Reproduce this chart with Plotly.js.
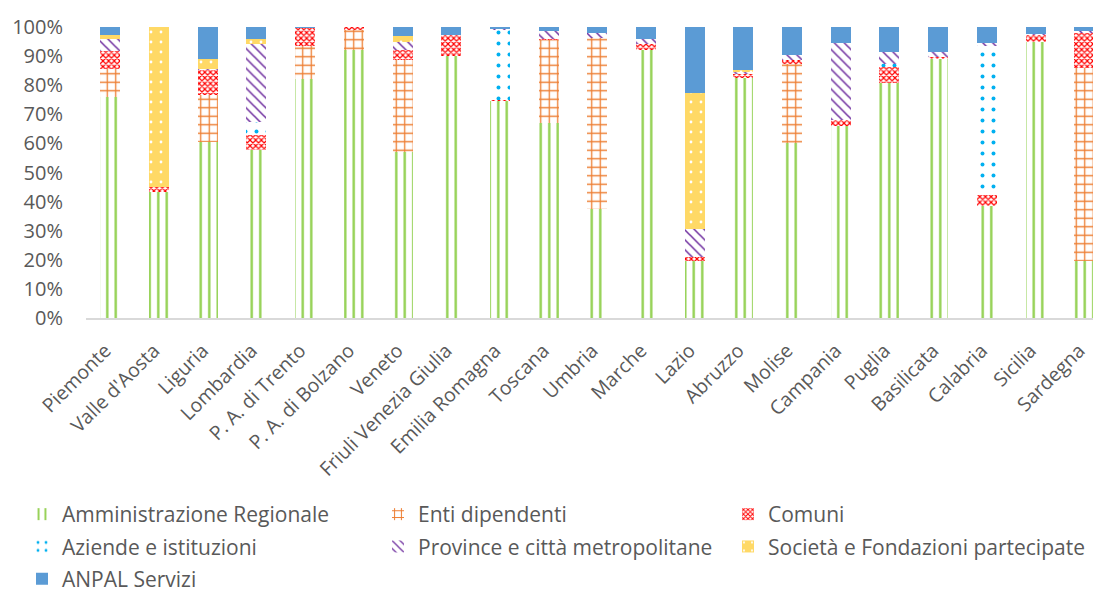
<!DOCTYPE html>
<html>
<head>
<meta charset="utf-8">
<script src="https://cdn.plot.ly/plotly-3.0.1.min.js"></script>
<style>html,body{margin:0;padding:0;background:#fff;overflow:hidden}#chart{width:1093px;height:592px}</style>
</head>
<body>
<div id="chart"></div>
<script>
const regions = ["Piemonte","Valle d'Aosta","Liguria","Lombardia","P. A. di Trento","P. A. di Bolzano","Veneto","Friuli Venezia Giulia","Emilia Romagna","Toscana","Umbria","Marche","Lazio","Abruzzo","Molise","Campania","Puglia","Basilicata","Calabria","Sicilia","Sardegna"];

const amministrazioneRegionale = [76.0, 43.4, 60.5, 57.7, 82.0, 92.2, 56.9, 90.0, 74.5, 67.0, 37.3, 92.2, 19.7, 82.6, 60.0, 66.1, 80.9, 89.0, 38.6, 94.9, 19.6];
const entiDipendenti          = [9.5, 0, 16.1, 0, 11.5, 6.9, 31.9, 0, 0, 28.4, 59.0, 0, 0, 0, 27.2, 0, 0, 0, 0, 0, 66.3];
const comuni                  = [6.3, 1.5, 8.5, 5.3, 6.1, 0.9, 3.4, 7.4, 0.4, 0.6, 0, 2.1, 1.1, 1.1, 1.4, 2.1, 5.4, 0.7, 3.6, 2.2, 12.2];
const aziendeIstituzioni      = [0, 0, 0, 4.4, 0, 0, 0, 0, 23.9, 0, 0, 0, 0, 0, 0, 0, 1.1, 0, 51.4, 0, 0];
const provinceMetropolitane   = [4.2, 0, 0.5, 26.7, 0, 0, 2.7, 0, 0.5, 2.5, 1.6, 1.7, 9.7, 0.9, 1.8, 26.4, 3.9, 1.6, 0.9, 0.6, 0.4];
const societaFondazioni       = [1.2, 55.1, 3.4, 1.9, 0, 0, 2.0, 0, 0, 0, 0, 0, 46.9, 0.5, 0, 0, 0, 0, 0, 0, 0];
const anpalServizi            = [2.8, 0, 11.0, 4.0, 0.4, 0, 3.1, 2.6, 0.7, 1.5, 2.1, 4.0, 22.6, 14.9, 9.6, 5.4, 8.7, 8.7, 5.5, 2.3, 1.5];

const seriesNames = ["Amministrazione Regionale","Enti dipendenti","Comuni","Aziende e istituzioni","Province e città metropolitane","Società e Fondazioni partecipate","ANPAL Servizi"];
const seriesValues = [amministrazioneRegionale, entiDipendenti, comuni, aziendeIstituzioni, provinceMetropolitane, societaFondazioni, anpalServizi];

const styles = [
  {legend:'legend',  pattern:{shape:'|', fgcolor:'#92D050', bgcolor:'#ffffff', size:8.5, solidity:0.28}},
  {legend:'legend2', pattern:{shape:'+', fgcolor:'#ED7D31', bgcolor:'#ffffff', size:8.5, solidity:0.28}},
  {legend:'legend3', pattern:{shape:'x', fgcolor:'#FF0000', bgcolor:'#ffffff', size:4, solidity:0.5}},
  {legend:'legend',  pattern:{shape:'.', fgcolor:'#00B0F0', bgcolor:'#ffffff', size:11, solidity:0.1}},
  {legend:'legend2', pattern:{shape:'\\', fgcolor:'#7030A0', bgcolor:'#ffffff', size:7, solidity:0.22}},
  {legend:'legend3', pattern:{shape:'.', fgcolor:'#ffffff', bgcolor:'#FFD966', size:10, solidity:0.06}},
  {legend:'legend',  color:'#5B9BD5'}
];

const traces = seriesNames.map((name, i) => {
  const st = styles[i];
  const marker = {line:{width:0}};
  if (st.pattern) {
    marker.color = st.pattern.fgcolor;
    marker.pattern = Object.assign({fillmode:'replace'}, st.pattern);
  } else {
    marker.color = st.color;
  }
  return {
    type:'bar', name:name, x:regions, y:seriesValues[i],
    marker:marker, legend:st.legend, legendgroup:'g'+i, hoverinfo:'name+y'
  };
});

const fam = '"Open Sans", "Noto Sans", sans-serif';
const font = {family:fam, size:19, color:'#595959'};
const legendBase = {orientation:'v', xref:'container', yref:'container', yanchor:'top', xanchor:'left',
  traceorder:'grouped', tracegroupgap:2, font:{family:fam, size:21, color:'#595959'}, bgcolor:'rgba(0,0,0,0)', itemwidth:30};

const layout = {
  width:1093, height:592,
  margin:{l:86, r:0, t:27, b:274, autoexpand:false},
  paper_bgcolor:'#ffffff', plot_bgcolor:'#ffffff',
  font:font,
  barmode:'stack', bargap:0.59,
  xaxis:{type:'category', range:[-0.5, 20.18], tickangle:-45, showgrid:false, zeroline:false, automargin:false,
    showline:true, linecolor:'#D9D9D9', linewidth:1.5, ticks:'', ticklabelstandoff:12, ticklabelshift:-5,
    tickfont:{size:19.5, color:'#595959'}},
  yaxis:{range:[0,100], dtick:10, ticksuffix:'%', showgrid:false, zeroline:false, showline:false, automargin:false,
    ticks:'', ticklabelstandoff:22, tickfont:{size:20, color:'#595959'}},
  showlegend:true,
  legend: Object.assign({}, legendBase, {x:22/1093, y:1-494/592}),
  legend2: Object.assign({}, legendBase, {x:378/1093, y:1-494/592}),
  legend3: Object.assign({}, legendBase, {x:728/1093, y:1-494/592})
};

Plotly.newPlot('chart', traces, layout, {displayModeBar:false, staticPlot:true});
</script>
</body>
</html>
